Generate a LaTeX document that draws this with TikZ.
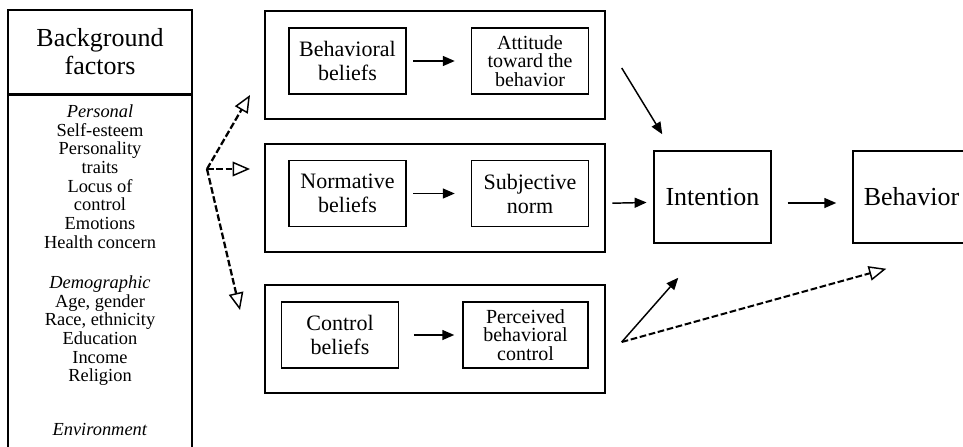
\documentclass[tikz,border=0pt]{standalone}
\usepackage{fontspec}
\setmainfont{Liberation Serif}
\usetikzlibrary{arrows.meta,calc}

\begin{document}
\begin{tikzpicture}[x=0.75pt,y=-0.75pt,->,>={Triangle[length=9pt,width=7.5pt]},line width=1.1pt,
    outer box/.style={draw,-,line width=1.1pt,minimum width=255pt,minimum height=81pt},
    inner box/.style={draw,-,line width=1.1pt,align=center,minimum width=87.75pt,minimum height=49.5pt,inner sep=2pt},
    two line/.style={font=\fontsize{16.5}{18}\selectfont},
    three line/.style={font=\fontsize{15}{14}\selectfont},
    main node/.style={draw,-,line width=1.1pt,minimum width=87.75pt,minimum height=69pt,font=\fontsize{19.5}{21}\selectfont},
    list/.style={align=center,inner sep=0pt,anchor=north,font=\fontsize{13.8}{14}\selectfont},
    dashed arrow/.style={line width=1.7pt,dash pattern=on 5pt off 2pt,-{Triangle[open,length=13pt,width=11pt,line width=1.1pt]}}]
            \clip (0,0) rectangle (963,446);
            % background factors
            \node[draw,-,minimum width=138pt,minimum height=63pt,align=center,font=\fontsize{19.5}{21}\selectfont] (hdr) at (100,52) {Background\\factors};
            \node[draw,-,minimum width=138pt,minimum height=282pt,anchor=north] (body) at (hdr.south) {};
            \node[list] (pers) at (100,104) {\textit{Personal}\\Self-esteem\\Personality\\traits\\Locus of\\control\\Emotions\\Health concern};
            \node[list] (demo) at (100,275) {\textit{Demographic}\\Age, gender\\Race, ethnicity\\Education\\Income\\Religion};
            \node[list] (env) at (100,423) {\textit{Environment}};

            % belief boxes
            \node[outer box] (o1) at (435,65) {};
            \node[outer box] (o2) at (435,198) {};
            \node[outer box] (o3) at (435,339) {};
            \node[inner box,two line] (bb) at (347.5,61) {Behavioral\\beliefs};
            \node[inner box,three line] (att) at (530,61) {Attitude\\toward the\\behavior};
            \node[inner box,two line] (nb) at (347.5,193.5) {Normative\\beliefs};
            \node[inner box,two line] (sn) at (530,193.5) {Subjective\\norm};
            \node[inner box,two line] (cb) at (340,335) {Control\\beliefs};
            \node[inner box,three line,minimum width=93.75pt] (pbc) at (525.5,335) {Perceived\\behavioral\\control};

            \node[main node] (int) at (712.5,197) {Intention};
            \node[main node] (beh) at (911.5,197) {Behavior};

            \draw[shorten <=5pt,shorten >=12pt] (bb.east) -- (att.west);
            \draw[shorten <=5pt,shorten >=12pt] (nb.east) -- (sn.west);
            \draw[shorten <=11pt,shorten >=6pt] (cb.east) -- (pbc.west);
            \draw[shorten <=5pt,shorten >=5pt] ([yshift=-4pt]o2.east) -- ([yshift=-4pt]int.west);
            \draw[shorten <=12pt,shorten >=12pt] ([yshift=-4.5pt]int.east) -- ([yshift=-4.5pt]beh.west);

            \coordinate (t1) at ($(o1.east)+(16,3)$);
            \coordinate (t2) at ($(int.north west)+(9,-16)$);
            \coordinate (c1) at ($(o3.east)+(16,3)$);
            \coordinate (c2) at ($(int.south west)+(25,34)$);
            \coordinate (c3) at ($(beh.south west)+(34,25)$);
            \draw (t1) -- (t2);
            \draw (c1) -- (c2);
            \draw[dashed arrow,line width=1.5pt] (c1) -- (c3);

            % dashed links from background factors
            \coordinate (fork) at (207,169);
            \coordinate (f1) at (250,95);
            \coordinate (f2) at (250,169);
            \coordinate (f3) at (240,310);
            \draw[dashed arrow] (fork) -- (f1);
            \draw[dashed arrow] (fork) -- (f2);
            \draw[dashed arrow] (fork) -- (f3);
        \end{tikzpicture}
\end{document}
